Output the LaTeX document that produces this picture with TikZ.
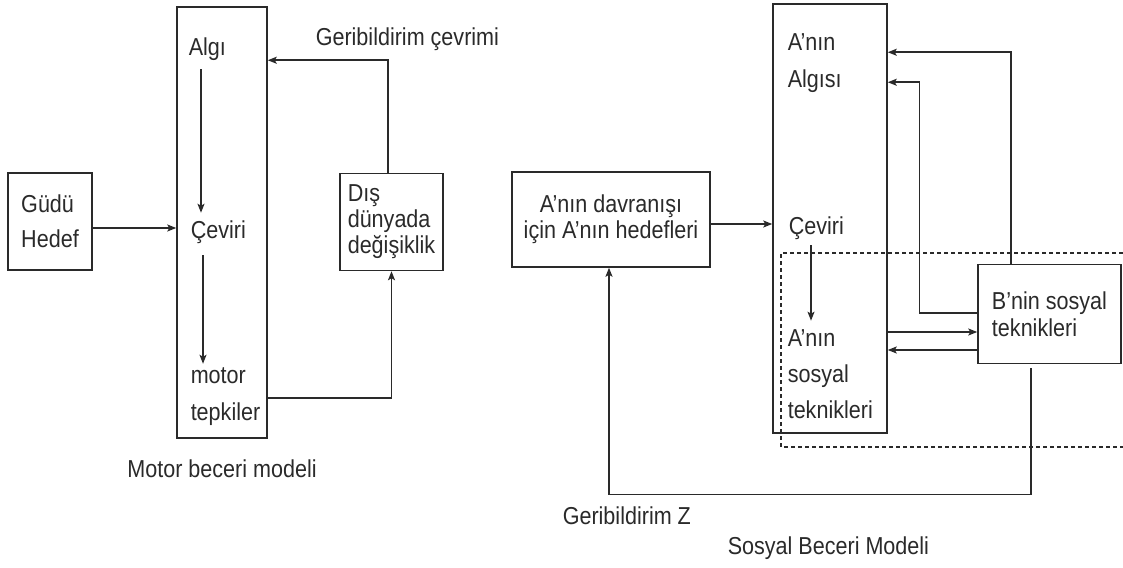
\documentclass[tikz,border=0pt]{standalone}
\usepackage{fontspec}
\setmainfont[FakeStretch=0.88]{Liberation Sans}
\usepackage{tikz}
\usetikzlibrary{arrows.meta,positioning}
\definecolor{ink}{HTML}{2A2A2A}

\begin{document}
\begin{tikzpicture}[->,>={Stealth[length=9pt,width=7pt,inset=2pt]},x=1pt,y=-1pt,line width=1.5pt,color=ink,
  font=\fontsize{24.5}{26}\selectfont]
\tikzstyle{box}=[draw,rectangle,inner sep=0pt,align=left]
\tikzstyle{tall}=[draw,rectangle,inner sep=0pt]
\tikzstyle{word}=[inner sep=0pt,text height=17.5pt,text depth=5.5pt,anchor=west]
\tikzstyle{stack}=[inner sep=0pt,align=left,anchor=west,font=\fontsize{24.5}{37}\selectfont]

\useasboundingbox (0,0) rectangle (1123,567);

% motor beceri modeli
\node[box,minimum width=84pt,minimum height=97pt,font=\fontsize{24.5}{35}\selectfont] (gudu) at (50,221.5) {Güdü\\Hedef};
\node[tall,minimum width=90pt,minimum height=431pt] (mbox) at (222,222.5) {};
\node[word] (algi) at (188,50) {Algı};
\node[word] (cev1) at (190,232) {Çeviri};
\node[stack] (tepki) at (190,396.5) {motor\\tepkiler};
\node[box,minimum width=103pt,minimum height=97pt] (dis) at (391.5,222) {Dış\\dünyada\\değişiklik};
\node[word] (cevrim) at (315,40) {Geribildirim çevrimi};
\node[word] (mcap) [below=20pt of mbox] {Motor beceri modeli};

\draw ([yshift=-6.5pt]gudu.east) coordinate (g1) -- (g1 -| mbox.west);
\draw[shorten >=7pt] ([shift={(13,7)}]algi.south west) coordinate (a1) -- (a1 |- cev1.north);
\draw[shorten >=3pt] ([shift={(13,11)}]cev1.south west) coordinate (a2) -- (a2 |- tepki.north);
\draw ([xshift=-3.5pt]dis.north) |- ([yshift=-54pt]mbox.north east);
\draw ([yshift=41pt]mbox.south east) -| (dis.south);

% sosyal beceri modeli
\node[box,minimum width=198pt,minimum height=95pt,align=center] (hedefA) at (611,219.5) {A’nın davranışı\\için A’nın hedefleri};
\node[tall,minimum width=114pt,minimum height=429pt] (sbox) at (830,218.5) {};
\node[stack] (algiA) at (787,63.5) {A’nın\\Algısı};
\node[word] (cev2) at (788,228) {Çeviri};
\node[stack,font=\fontsize{24.5}{36}\selectfont] (teknA) at (787,374) {A’nın\\sosyal\\teknikleri};
\node[box,minimum width=143pt,minimum height=99pt,font=\fontsize{24.5}{27}\selectfont] (teknB) at (1049.5,314) {B’nin sosyal\\teknikleri};
\node[word] (gbz) at (562,518) {Geribildirim Z};
\node[word] (scap) at (727,548) {Sosyal Beceri Modeli};

\draw[-,line width=1.3pt,dash pattern=on 4pt off 3pt] (1123,253) -- (781,253) -- (781,447) -- (1123,447);

\draw ([yshift=-4.5pt]hedefA.east) coordinate (h1) -- (h1 -| sbox.west);
\draw[shorten >=8pt] ([shift={(23,5)}]cev2.south west) coordinate (a3) -- (a3 |- teknA.north);
\draw ([xshift=-38.5pt]teknB.north) |- ([yshift=-49pt]sbox.north east);
\draw ([yshift=1pt]teknB.west) -- ++(-58,0) |- ([yshift=-79pt]sbox.north east);
\draw[<-] ([yshift=-18pt]teknB.west) coordinate (b1) -- (b1 -| sbox.east);
\draw ([yshift=-36pt]teknB.west) coordinate (b2) -- (b2 -| sbox.east);
\draw[shorten <=4pt] ([xshift=-18.5pt]teknB.south) -- ++(0,130) -| ([xshift=-2pt]hedefA.south);
\end{tikzpicture}
\end{document}
